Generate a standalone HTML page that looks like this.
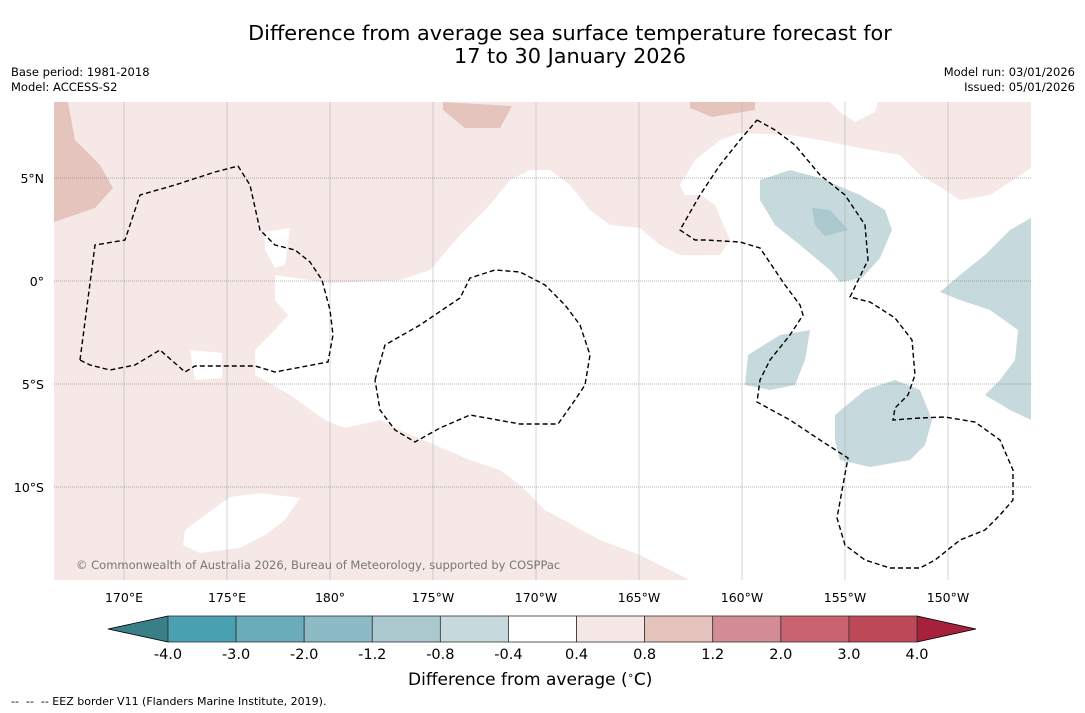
<!DOCTYPE html>
<html><head><meta charset="utf-8"><style>
body{margin:0;background:#fff;font-family:"DejaVu Sans","Liberation Sans",sans-serif;}
#wrap{position:relative;width:1085px;height:713px;overflow:hidden;background:#fff}
.t{position:absolute;white-space:nowrap}
svg text{font-family:"DejaVu Sans","Liberation Sans",sans-serif}
</style></head><body>
<div id="wrap">
<div class="t" style="left:0;width:1140px;text-align:center;top:22px;font-size:20.8px;line-height:23px;color:#000">Difference from average sea surface temperature forecast for<br>17 to 30 January 2026</div>
<div class="t" style="left:11px;top:65px;font-size:11.5px;line-height:15px">Base period: 1981-2018<br>Model: ACCESS-S2</div>
<div class="t" style="right:10px;top:65px;font-size:11.5px;line-height:15px;text-align:right">Model run: 03/01/2026<br>Issued: 05/01/2026</div>
<svg id="svg" width="1085" height="713" style="position:absolute;left:0;top:0"></svg>
<div class="t" style="left:76px;top:558px;font-size:11.5px;color:#777">© Commonwealth of Australia 2026, Bureau of Meteorology, supported by COSPPac</div>
<div class="t" style="left:408px;top:670px;font-size:17px">Difference from average (<sup style="font-size:10px">∘</sup>C)</div>
<div class="t" style="left:11px;top:695px;font-size:11px">-- &nbsp;-- &nbsp;-- EEZ border V11 (Flanders Marine Institute, 2019).</div>
</div>
<script>
const lonTicks=["170°E","175°E","180°","175°W","170°W","165°W","160°W","155°W","150°W"];
const latTicks=["5°N","0°","5°S","10°S"];
const latVals=[5,0,-5,-10];
const cbBounds=[-4.0,-3.0,-2.0,-1.2,-0.8,-0.4,0.4,0.8,1.2,2.0,3.0,4.0];
const cbColors=["#48a0b0","#6aacb9","#8cbac5","#aac8cd","#c6d9dc","#ffffff","#f5e7e5","#e6c3bd","#d48d95","#c8636f","#bd4858"];
const NS="http://www.w3.org/2000/svg";
const svg=document.getElementById('svg');
function mk(tag,attrs,parent){const e=document.createElementNS(NS,tag);for(const k in attrs)e.setAttribute(k,attrs[k]);(parent||svg).appendChild(e);return e;}
const X0=54,X1=1031,Y0=102,Y1=580;
const lonX=i=>124+i*103.0;
const latY=v=>281-v*20.6;
mk('defs',{}).innerHTML='<clipPath id="mc"><rect x="54" y="102" width="977" height="478"/></clipPath>';
const g=mk('g',{'clip-path':'url(#mc)'});
let r=mk('rect',{x:X0,y:Y0,width:X1-X0,height:Y1-Y0,fill:'#f5e8e6'},g);


function poly(pts,fill,name,parent){const p=mk('polygon',{points:pts,fill:fill},parent||g);

return p;}
poly("275,275 330,283 400,280 430,270 460,235 490,205 510,180 530,170 550,170 570,185 590,210 610,225 640,228 660,245 680,255 720,255 730,240 715,205 700,195 685,195 680,185 695,160 720,140 740,133 790,135 820,140 860,148 900,155 920,175 945,190 960,200 990,195 1031,168 1031,580 690,580 640,555 600,540 545,510 520,485 500,470 470,460 435,445 400,430 380,420 345,428 325,420 290,395 255,375 255,350 275,330 288,315 275,300","#fff","white-anomaly-region");
poly("830,102 878,102 875,112 855,122 840,112","#fff","white-region-top");
poly("185,530 205,515 230,497 260,493 300,498 285,520 265,535 240,548 200,553 183,545","#fff","white-region-lower-left");
poly("190,350 222,353 222,378 195,380","#fff","white-region-small");
poly("265,232 290,228 285,265 275,268 265,250","#fff","white-region-small-2");
poly("54,102 68,102 75,140 100,165 113,188 95,208 54,222","#e6c4be","warm-region-left");
poly("443,102 512,106 500,128 465,128 443,110","#e6c4be","warm-region-top");
poly("690,102 755,102 755,110 712,117 690,108","#e6c4be","warm-region-top-2");
poly("760,180 790,170 820,178 860,195 885,210 892,230 880,258 862,278 840,282 830,270 800,245 775,225 760,200","#c6d9dc","cool-region-1");
poly("812,208 830,210 848,230 825,236 815,225","#aac8cd","cool-region-1-core");
poly("1031,218 1031,420 1010,410 985,395 1000,380 1015,360 1018,330 990,310 960,300 940,292 960,275 985,255 1010,230","#c6d9dc","cool-region-2");
poly("748,355 780,335 810,330 805,360 795,385 770,390 745,385","#c6d9dc","cool-region-3");
poly("835,415 865,390 895,380 920,390 932,420 925,445 910,460 870,467 840,460 835,440","#c6d9dc","cool-region-4");
lonTicks.forEach((t,i)=>{const l=mk('line',{x1:lonX(i),x2:lonX(i),y1:Y0,y2:Y1,stroke:'#aaa','stroke-width':0.5},g);


const tx=mk('text',{x:lonX(i),y:602,'text-anchor':'middle','font-size':12.5,fill:'#000'});tx.textContent=t;

});
latTicks.forEach((t,i)=>{const y=latY(latVals[i]);const l=mk('line',{x1:X0,x2:X1,y1:y,y2:y,stroke:'#666','stroke-width':0.6,'stroke-dasharray':'1,1'},g);


const tx=mk('text',{x:44,y:y+5,'text-anchor':'end','font-size':12.5,fill:'#000'});tx.textContent=t;

});
const eez=["80,360 95,245 125,240 140,195 175,185 215,172 238,166 250,185 260,230 275,245 295,250 310,262 322,280 330,310 333,335 328,362 275,372 255,366 195,366 185,372 160,350 135,365 110,370 90,365 80,360",
"375,380 385,345 420,325 460,298 470,278 495,270 520,272 545,285 565,305 580,325 590,355 585,385 575,400 558,424 520,424 470,415 440,428 415,442 395,430 380,410 375,380",
"757,120 775,130 795,145 820,175 845,195 865,225 868,260 850,297 870,302 895,318 912,340 915,375 908,395 895,408 893,420 920,418 945,417 975,422 1000,440 1013,470 1013,500 1000,515 985,530 960,540 935,560 920,568 890,568 865,560 845,545 837,518 843,485 848,458 820,440 790,420 757,402 760,380 770,360 790,335 803,315 800,305 785,285 760,248 740,242 705,240 695,240 680,230 700,195 720,165 740,140 757,120"];
eez.forEach(p=>{const e=mk('polyline',{points:p,fill:'none',stroke:'#000','stroke-width':1.4,'stroke-dasharray':'5,3'},g);

});
const cbX0=168,cbX1=917,cbY=616,cbH=26;
const cbx=i=>cbX0+i*(cbX1-cbX0)/(cbBounds.length-1);
let tl=mk('polygon',{points:`108,629 ${cbX0},${cbY} ${cbX0},${cbY+cbH}`,fill:'#3a7f88',stroke:'#000','stroke-width':0.8});


let tr=mk('polygon',{points:`976,629 ${cbX1},${cbY} ${cbX1},${cbY+cbH}`,fill:'#a6213c',stroke:'#000','stroke-width':0.8});


cbColors.forEach((c,i)=>{const b=mk('rect',{x:cbx(i),y:cbY,width:cbx(i+1)-cbx(i),height:cbH,fill:c,stroke:'#333','stroke-width':0.8});

});
cbBounds.forEach((v,i)=>{const tx=mk('text',{x:cbx(i),y:659,'text-anchor':'middle','font-size':14.5,fill:'#000'});tx.textContent=v.toFixed(1);

});
</script>
</body></html>
